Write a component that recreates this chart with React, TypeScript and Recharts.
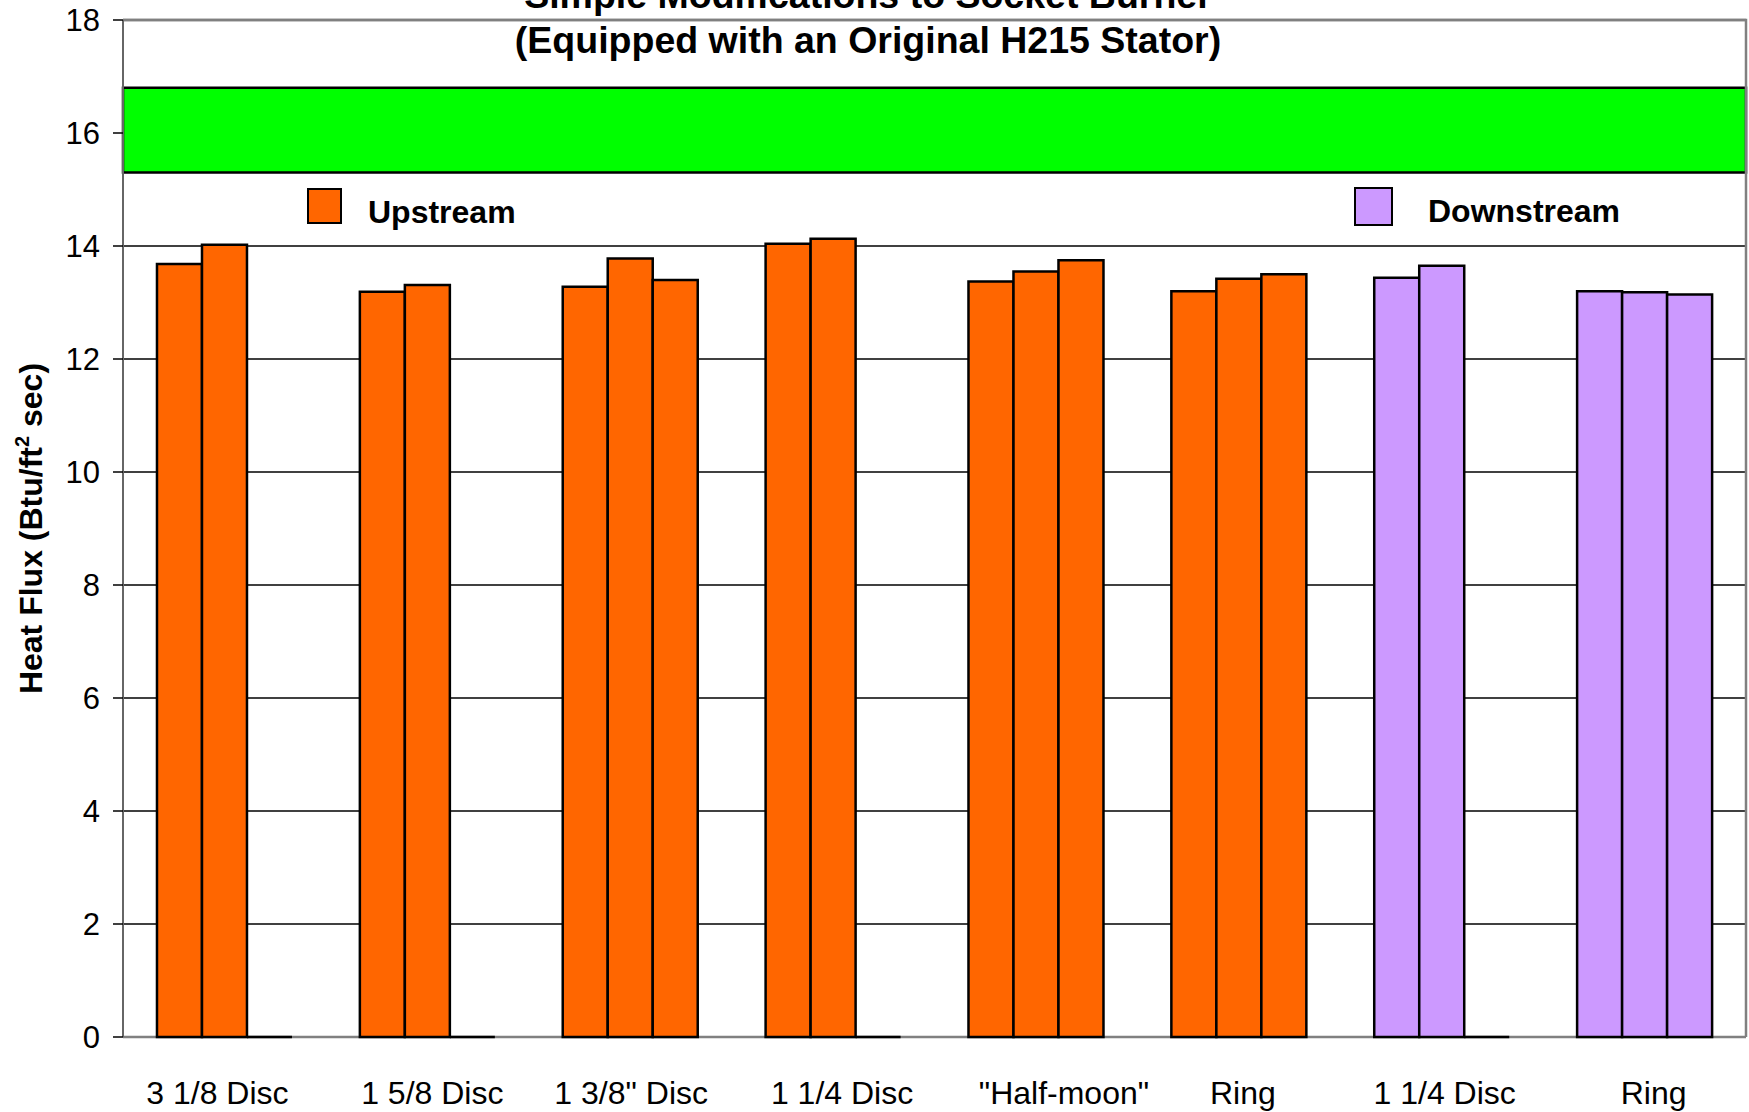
import { BarChart, Bar, XAxis, YAxis, CartesianGrid, ReferenceArea } from 'recharts'

const categories = ['3 1/8 Disc', '1 5/8 Disc', '1 3/8" Disc', '1 1/4 Disc', '"Half-moon"', 'Ring', '1 1/4 Disc', 'Ring']
const sides = ['Upstream', 'Upstream', 'Upstream', 'Upstream', 'Upstream', 'Upstream', 'Downstream', 'Downstream']
const run1 = [13.68, 13.19, 13.28, 14.04, 13.37, 13.2, 13.44, 13.2]
const run2 = [14.02, 13.31, 13.78, 14.13, 13.55, 13.42, 13.65, 13.18]
const run3 = [0, 0, 13.4, 0, 13.75, 13.5, 0, 13.14]
const yTicks = [0, 2, 4, 6, 8, 10, 12, 14, 16, 18]
const targetBand = [15.3, 16.8]
const legendItems = ['Upstream', 'Downstream']

// the original's category labels sit a little off-centre
const labelNudge = [-7, 5, 1, 9, 28, 4, 3, 9]

const sideColor: Record<string, string> = {
  Upstream: '#FF6600',
  Downstream: '#CC99FF',
}

const data = categories.map((name, i) => ({
  name,
  side: sides[i],
  r1: run1[i],
  r2: run2[i],
  r3: run3[i],
}))

const FONT = '"Liberation Sans", Arial, sans-serif'

// path instead of rect so zero-height bars still show as a line
function BarShape(props: any) {
  const { x, y, width, height, payload } = props
  const d = `M${x},${y + height}V${y}H${x + width}V${y + height}Z`
  return <path d={d} fill={sideColor[payload.side]} stroke="#000" strokeWidth={2.5} />
}

// grid lines: black inside, grey on the plot's bottom/top edge
function GridLine(props: any) {
  const { x1, y1, x2, y2, y, height } = props
  const edge = y != null && height != null && (Math.abs(y1 - y) < 1 || Math.abs(y1 - (y + height)) < 1)
  return (
    <line
      x1={x1}
      y1={y1}
      x2={x2}
      y2={y2}
      stroke={edge ? '#808080' : '#000'}
      strokeWidth={edge ? 2.5 : 1.5}
    />
  )
}

// only the right edge of the plot frame
function RightEdge(props: any) {
  const { x, y, width, height } = props
  return <path d={`M${x},${y}H${x + width}V${y + height}`} fill="none" stroke="#808080" strokeWidth={2.5} />
}

function CategoryTick({ x, y, payload, index }: any) {
  return (
    <text
      x={x + (labelNudge[index] || 0)}
      y={y + 42}
      dy={23}
      textAnchor="middle"
      fontFamily={FONT}
      fontSize={32}
      fill="#000"
    >
      {payload.value}
    </text>
  )
}

function YLabel({ viewBox }: any) {
  const cx = 42
  const cy = viewBox.y + viewBox.height / 2
  return (
    <text
      x={cx}
      y={cy}
      transform={`rotate(-90, ${cx}, ${cy})`}
      textAnchor="middle"
      fontFamily={FONT}
      fontWeight="bold"
      fontSize={32}
      fill="#000"
    >
      Heat Flux (Btu/ft
      <tspan dy={-13} fontSize={20}>2</tspan>
      <tspan dy={13}> sec)</tspan>
    </text>
  )
}

const legendPos: Record<string, { sq: number[]; tx: number[] }> = {
  Upstream: { sq: [307, 188, 35, 36], tx: [368, 196] },
  Downstream: { sq: [1354, 187, 39, 39], tx: [1428, 195] },
}

export default function App() {
  return (
    <div
      style={{
        position: 'absolute',
        left: 0,
        top: 0,
        width: 1749,
        height: 1112,
        overflow: 'hidden',
        background: '#fff',
        fontFamily: FONT,
      }}
    >
      <BarChart
        width={1749}
        height={1112}
        data={data}
        margin={{ top: 20, right: 3, bottom: 0, left: 0 }}
        barCategoryGap="16.75%"
        barGap={0}
      >
        <CartesianGrid vertical={false} horizontal={<GridLine />} />
        <ReferenceArea
          y1={targetBand[0]}
          y2={targetBand[1]}
          fill="#00FF00"
          fillOpacity={1}
          stroke="#000"
          strokeWidth={2.5}
        />
        <ReferenceArea y1={0} y2={18} shape={RightEdge} />
        <XAxis
          dataKey="name"
          height={75}
          tickLine={false}
          tickSize={0}
          interval={0}
          axisLine={false}
          tick={<CategoryTick />}
        />
        <YAxis
          width={123}
          domain={[0, 18]}
          ticks={yTicks}
          interval={0}
          tickSize={10}
          tickMargin={13}
          axisLine={{ stroke: '#666', strokeWidth: 2 }}
          tickLine={{ stroke: '#000', strokeWidth: 1.5 }}
          tick={{ fill: '#000', fontSize: 31, fontFamily: FONT }}
          label={<YLabel />}
        />
        <Bar dataKey="r1" shape={BarShape} isAnimationActive={false} />
        <Bar dataKey="r2" shape={BarShape} isAnimationActive={false} />
        <Bar dataKey="r3" shape={BarShape} isAnimationActive={false} />
      </BarChart>

      <div
        style={{
          position: 'absolute',
          top: -27,
          left: 0,
          width: 1736,
          textAlign: 'center',
          fontSize: 37.5,
          fontWeight: 'bold',
          lineHeight: '45px',
          color: '#000',
        }}
      >
        <div>Simple Modifications to Socket Burner</div>
        <div>(Equipped with an Original H215 Stator)</div>
      </div>

      {legendItems.map((name) => {
        const p = legendPos[name]
        return (
          <div key={name}>
            <div
              style={{
                position: 'absolute',
                left: p.sq[0],
                top: p.sq[1],
                width: p.sq[2],
                height: p.sq[3],
                boxSizing: 'border-box',
                border: '2px solid #000',
                background: sideColor[name],
              }}
            />
            <div
              style={{
                position: 'absolute',
                left: p.tx[0],
                top: p.tx[1],
                fontSize: 32,
                fontWeight: 'bold',
                lineHeight: '32px',
                whiteSpace: 'nowrap',
                color: '#000',
              }}
            >
              {name}
            </div>
          </div>
        )
      })}
    </div>
  )
}
